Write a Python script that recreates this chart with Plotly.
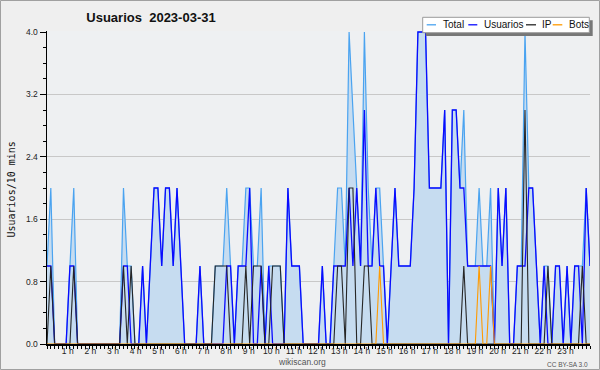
import plotly.graph_objects as go

# ---------------- data (one value per 10 minutes, 00:00 .. 23:40) ----------------
total = [1, 2, 0, 0, 0, 0, 1, 2, 0, 0,
         0, 0, 0, 0, 0, 0, 0, 0, 0, 0,
         2, 1, 1, 0, 0, 1, 0, 1, 2, 2,
         1, 2, 2, 1, 2, 1, 0, 0, 0, 0,
         1, 0, 0, 0, 1, 1, 1, 2, 1, 0,
         1, 1, 2, 2, 1, 1, 2, 0, 1, 1,
         1, 1, 0, 2, 1, 1, 1, 0, 0, 0,
         0, 0, 1, 0, 0, 1, 2, 2, 1, 4,
         3, 2, 1, 4, 2, 1, 2, 2, 1, 0,
         1, 2, 1, 1, 1, 1, 2, 4, 4, 4,
         2, 2, 2, 2, 3, 0, 3, 3, 2, 3,
         1, 1, 1, 2, 1, 1, 2, 0, 2, 1,
         2, 0, 0, 1, 1, 4, 2, 2, 1, 0,
         1, 1, 0, 1, 1, 0, 1, 0, 1, 1,
         1, 2, 1]

usuarios = [1, 1, 0, 0, 0, 0, 1, 1, 0, 0,
            0, 0, 0, 0, 0, 0, 0, 0, 0, 0,
            1, 1, 0, 0, 0, 1, 0, 1, 2, 2,
            1, 2, 2, 1, 2, 1, 0, 0, 0, 0,
            1, 0, 0, 0, 0, 0, 0, 1, 1, 0,
            1, 1, 1, 2, 0, 0, 1, 0, 1, 0,
            0, 0, 0, 2, 1, 1, 1, 0, 0, 0,
            0, 0, 1, 0, 0, 1, 1, 1, 1, 2,
            1, 2, 1, 3, 1, 1, 2, 1, 1, 0,
            1, 2, 1, 1, 1, 1, 2, 4, 4, 4,
            2, 2, 2, 2, 3, 0, 3, 3, 2, 2,
            1, 1, 1, 1, 1, 1, 1, 0, 2, 1,
            2, 0, 0, 1, 1, 1, 2, 2, 1, 0,
            1, 0, 0, 1, 1, 0, 1, 0, 1, 1,
            0, 2, 1]

ip = [0, 1, 0, 0, 0, 0, 0, 1, 0, 0,
      0, 0, 0, 0, 0, 0, 0, 0, 0, 0,
      1, 0, 1, 0, 0, 0, 0, 0, 0, 0,
      0, 0, 0, 0, 0, 0, 0, 0, 0, 0,
      0, 0, 0, 0, 1, 1, 1, 1, 0, 0,
      0, 0, 1, 0, 1, 1, 1, 0, 0, 1,
      1, 1, 0, 0, 0, 0, 0, 0, 0, 0,
      0, 0, 0, 0, 0, 0, 1, 1, 0, 2,
      2, 0, 0, 1, 1, 0, 0, 0, 0, 0,
      0, 0, 0, 0, 0, 0, 0, 0, 0, 0,
      0, 0, 0, 0, 0, 0, 0, 0, 0, 1,
      0, 0, 0, 0, 0, 0, 0, 0, 0, 0,
      0, 0, 0, 0, 0, 3, 0, 0, 0, 0,
      0, 1, 0, 0, 0, 0, 0, 0, 0, 0,
      1, 0, 0]

bots = [0] * 87 + [1] + [0] * 25 + [1, 0, 0, 1] + [0] * 26

hour_labels = ["1 h", "2 h", "3 h", "4 h", "5 h", "6 h", "7 h", "8 h", "9 h", "10 h",
               "11 h", "12 h", "13 h", "14 h", "15 h", "16 h", "17 h", "18 h", "19 h",
               "20 h", "21 h", "22 h", "23 h"]
hours = list(range(1, 24))
y_ticks = [0.0, 0.8, 1.6, 2.4, 3.2, 4.0]

title_text = "Usuarios\u00a0\u00a02023-03-31"
y_title = "Usuarios/10 mins"
series_names = ["Total", "Usuarios", "IP", "Bots"]
colors = {"Total": "#4aa3f0", "Usuarios": "#0a0aff", "IP": "#262626", "Bots": "#ff9a00"}

# ---------------- geometry ----------------
W, H = 600, 370
L, R, T, B = 47, 10, 31, 26
PW, PH = W - L - R, H - T - B
n = len(total)
minutes = [10 * i for i in range(n)]
xmax = minutes[-1]


def px2x(px):
    return (px - L) / PW


def py2y(py):
    return (H - B - py) / PH


fig = go.Figure()

fig.add_trace(go.Scatter(x=minutes, y=total, mode="lines", name="Total",
                         line=dict(color=colors["Total"], width=1.2),
                         fill="tozeroy", fillcolor="#c6dcf0"))
fig.add_trace(go.Scatter(x=minutes, y=usuarios, mode="lines", name="Usuarios",
                         line=dict(color=colors["Usuarios"], width=1.3)))
fig.add_trace(go.Scatter(x=minutes, y=ip, mode="lines", name="IP",
                         line=dict(color=colors["IP"], width=1.1)))
fig.add_trace(go.Scatter(x=minutes, y=bots, mode="lines", name="Bots",
                         line=dict(color=colors["Bots"], width=1.1)))

tick_font = dict(family="Liberation Sans", size=8.5, color="#222")
hour_pos = [(h * (n - 1) / 24 - 0.5) * 10 for h in hours]

fig.update_xaxes(range=[0, xmax], showgrid=False, zeroline=False,
                 showline=True, linecolor="#000", linewidth=1.5,
                 tickmode="array", tickvals=hour_pos, ticktext=hour_labels,
                 ticks="", tickfont=tick_font, ticklabelstandoff=-2,
                 minor=dict(tickmode="array", tickvals=minutes, ticks="outside",
                            ticklen=3, tickcolor="#000", tickwidth=1, showgrid=False))
fig.update_yaxes(range=[0, 4.0128], showgrid=True, gridcolor="#c8c8c8", gridwidth=1,
                 zeroline=False, showline=True, linecolor="#000", linewidth=1.5,
                 tickmode="array", tickvals=y_ticks, ticktext=[f"{v:.1f}" for v in y_ticks],
                 ticks="outside", ticklen=6, tickcolor="#000", tickwidth=1,
                 tickfont=tick_font,
                 minor=dict(tickmode="array", tickvals=[k * 0.2 for k in range(21)],
                            ticks="outside", ticklen=3, tickcolor="#000", showgrid=False))

shapes = []
annotations = []

# outer frame
shapes.append(dict(type="rect", xref="paper", yref="paper",
                   x0=px2x(0.5), x1=px2x(599.5), y0=py2y(369.5), y1=py2y(0.5),
                   line=dict(color="#a0a0a0", width=1), layer="above"))

# legend shadow + box
shapes.append(dict(type="rect", xref="paper", yref="paper",
                   x0=px2x(425.7), x1=px2x(592.7), y0=py2y(36), y1=py2y(20.3),
                   fillcolor="#777777", line=dict(width=0), layer="above"))
shapes.append(dict(type="rect", xref="paper", yref="paper",
                   x0=px2x(422.7), x1=px2x(589.3), y0=py2y(32.7), y1=py2y(17.3),
                   fillcolor="#ffffff", line=dict(color="#9a9a9a", width=1), layer="above"))

leg_line = {"Total": (426.7, 436), "Usuarios": (468.3, 477.3), "IP": (526, 536), "Bots": (552.7, 562.3)}
leg_text = {"Total": 442.2, "Usuarios": 482.8, "IP": 541.2, "Bots": 567.8}
ly = 24.8
for name in series_names:
    a, b = leg_line[name]
    shapes.append(dict(type="line", xref="paper", yref="paper",
                       x0=px2x(a), x1=px2x(b), y0=py2y(ly), y1=py2y(ly),
                       line=dict(color=colors[name], width=1.3), layer="above"))
    annotations.append(dict(text=name, xref="paper", yref="paper",
                            x=px2x(leg_text[name]), y=py2y(ly), xanchor="left", yanchor="middle",
                            showarrow=False, borderpad=0,
                            font=dict(family="Liberation Sans", size=10, color="#111")))

# axis title
annotations.append(dict(text=y_title, xref="paper", yref="paper",
                        x=px2x(10.5), y=py2y(190), textangle=-90,
                        xanchor="center", yanchor="middle", showarrow=False,
                        font=dict(family="DejaVu Sans Mono", size=10, color="#111")))
# footer
annotations.append(dict(text="wikiscan.org", xref="paper", yref="paper",
                        x=px2x(302), y=py2y(362), xanchor="center", yanchor="middle",
                        showarrow=False, font=dict(family="Liberation Sans", size=8.5, color="#555")))
annotations.append(dict(text="CC BY-SA 3.0", xref="paper", yref="paper",
                        x=px2x(590), y=py2y(364), xanchor="right", yanchor="middle",
                        showarrow=False, font=dict(family="Liberation Sans", size=6.5, color="#555")))

fig.update_layout(
    width=W, height=H,
    margin=dict(l=L, r=R, t=T, b=B, pad=0),
    paper_bgcolor="#efefef", plot_bgcolor="#eef0f2",
    showlegend=False,
    title=dict(text="<b>" + title_text + "</b>", xref="container", yref="container",
               x=151 / W, y=1 - 17 / H, xanchor="center", yanchor="middle",
               font=dict(family="Liberation Sans", size=13, color="#111")),
    shapes=shapes, annotations=annotations,
)

fig.write_html("out.html", config={"displayModeBar": False, "staticPlot": True},
               post_script="document.body.style.margin='0';document.body.style.padding='0';")
